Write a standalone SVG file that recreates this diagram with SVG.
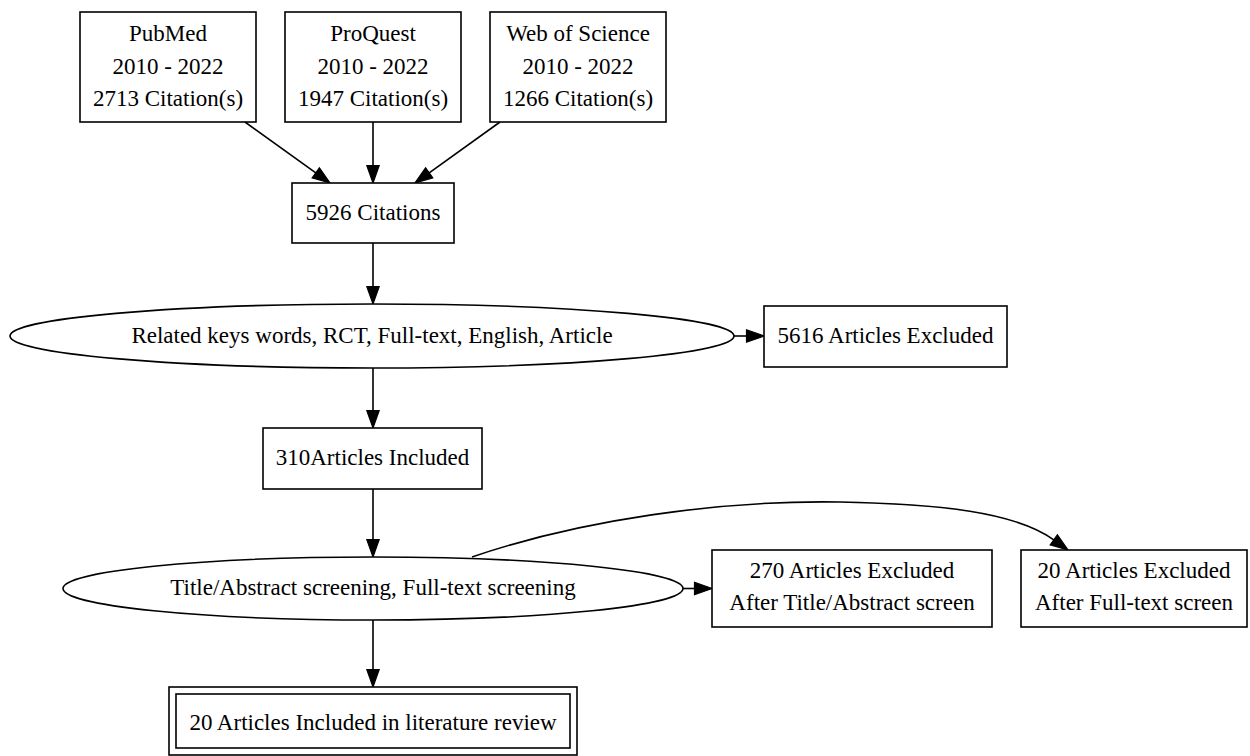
<svg xmlns="http://www.w3.org/2000/svg" width="1250" height="756" viewBox="0 0 1250 756">
<style>
  .n { fill: #ffffff; stroke: #000000; stroke-width: 1.6; }
  .t { font-family: "Liberation Serif", "Times New Roman", serif; font-size: 23px; fill: #000000; text-anchor: middle; }
  .e { fill: none; stroke: #000000; stroke-width: 1.6; marker-end: url(#ah); }
</style>
<defs>
  <marker id="ah" markerUnits="userSpaceOnUse" markerWidth="20" markerHeight="14" refX="0" refY="7" orient="auto" overflow="visible">
    <path d="M0,0.8 L17.5,7 L0,13.2 Z" fill="#000000" stroke="#000000" stroke-width="1.2"/>
  </marker>
</defs>
<rect width="1250" height="756" fill="#ffffff"/>

<g id="connectors">
  <path class="e" d="M245,122 L315.8,172.8"/>
  <path class="e" d="M373,122 L373,165.5"/>
  <path class="e" d="M500,122 L429.2,172.8"/>
  <path class="e" d="M373,243 L373,286.5"/>
  <path class="e" d="M373,368 L373,410.5"/>
  <path class="e" d="M734,336 L746.5,336"/>
  <path class="e" d="M373,489 L373,539.5"/>
  <path class="e" d="M683,588.5 L694.5,588.5"/>
  <path class="e" d="M472,557 C580,520 720,500 840,502 C940,504 1015,512 1053.8,539.8"/>
  <path class="e" d="M373,620 L373,669.5"/>
</g>

<g id="pubmed">
  <rect class="n" x="80" y="12" width="176" height="110"/>
  <text class="t" x="168" y="41">PubMed</text>
  <text class="t" x="168" y="73.5">2010 - 2022</text>
  <text class="t" x="168" y="106">2713 Citation(s)</text>
</g>
<g id="proquest">
  <rect class="n" x="285" y="12" width="176" height="110"/>
  <text class="t" x="373" y="41">ProQuest</text>
  <text class="t" x="373" y="73.5">2010 - 2022</text>
  <text class="t" x="373" y="106">1947 Citation(s)</text>
</g>
<g id="wos">
  <rect class="n" x="490" y="12" width="176" height="110"/>
  <text class="t" x="578" y="41">Web of Science</text>
  <text class="t" x="578" y="73.5">2010 - 2022</text>
  <text class="t" x="578" y="106">1266 Citation(s)</text>
</g>
<g id="citations">
  <rect class="n" x="292" y="183" width="162" height="60"/>
  <text class="t" x="373" y="219.5">5926 Citations</text>
</g>
<g id="filter1">
  <ellipse class="n" cx="372" cy="336" rx="362" ry="32"/>
  <text class="t" x="372" y="342.5">Related keys words, RCT, Full-text, English, Article</text>
</g>
<g id="excluded1">
  <rect class="n" x="764" y="306" width="243" height="61"/>
  <text class="t" x="885.5" y="342.5">5616 Articles Excluded</text>
</g>
<g id="included310">
  <rect class="n" x="263" y="428" width="219" height="61"/>
  <text class="t" x="372.5" y="464.5">310Articles Included</text>
</g>
<g id="filter2">
  <ellipse class="n" cx="373" cy="588.5" rx="310" ry="31.5"/>
  <text class="t" x="373" y="594.5">Title/Abstract screening, Full-text screening</text>
</g>
<g id="excluded270">
  <rect class="n" x="712" y="550" width="280" height="77"/>
  <text class="t" x="852" y="578">270 Articles Excluded</text>
  <text class="t" x="852" y="609.5">After Title/Abstract screen</text>
</g>
<g id="excluded20">
  <rect class="n" x="1021" y="550" width="226" height="77"/>
  <text class="t" x="1134" y="578">20 Articles Excluded</text>
  <text class="t" x="1134" y="609.5">After Full-text screen</text>
</g>
<g id="final">
  <rect class="n" x="169" y="687" width="408" height="68"/>
  <rect class="n" x="176" y="694" width="394" height="54"/>
  <text class="t" x="373" y="729.5">20 Articles Included in literature review</text>
</g>
</svg>
